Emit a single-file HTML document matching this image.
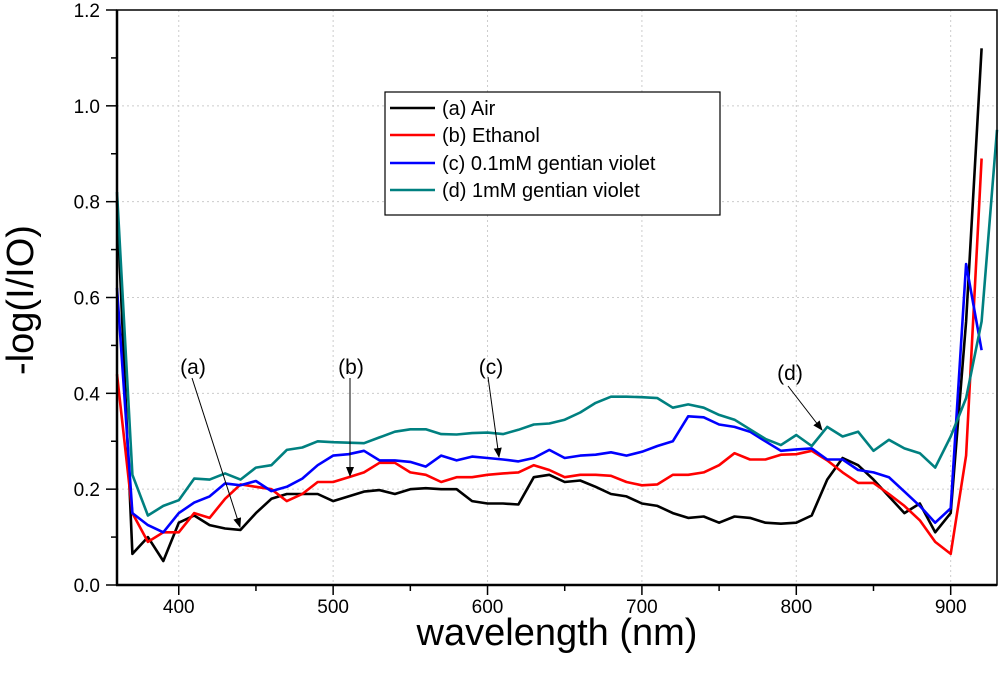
<!DOCTYPE html>
<html><head><meta charset="utf-8"><style>
body{margin:0;background:#fff;width:1000px;height:679px;overflow:hidden}
svg{font-family:"Liberation Sans",sans-serif}
</style></head><body>
<svg id="chart" width="1000" height="679">
<defs><marker id="ah" markerWidth="10" markerHeight="10" refX="9" refY="4" orient="auto" markerUnits="userSpaceOnUse"><path d="M0,0 L10,4 L0,8 z" fill="#000"/></marker></defs>
<g id="grid"></g>
<g id="series"></g>
<g id="axes"></g>
<text x="557" y="645" font-size="38" text-anchor="middle">wavelength (nm)</text>
<text transform="translate(33,300) rotate(-90)" font-size="38" text-anchor="middle">-log(I/IO)</text>
<g>
<rect x="385" y="92" width="335" height="123" fill="#fff" stroke="#000" stroke-width="1.2"/>
<g font-size="20">
<line x1="390" y1="108" x2="435" y2="108" stroke="#000" stroke-width="2.5"/><text x="442" y="115">(a) Air</text>
<line x1="390" y1="135" x2="435" y2="135" stroke="#ff0000" stroke-width="2.5"/><text x="442" y="142">(b) Ethanol</text>
<line x1="390" y1="163" x2="435" y2="163" stroke="#0000ff" stroke-width="2.5"/><text x="442" y="170">(c) 0.1mM gentian violet</text>
<line x1="390" y1="190" x2="435" y2="190" stroke="#008080" stroke-width="2.5"/><text x="442" y="197">(d) 1mM gentian violet</text>
</g></g>
<g font-size="21">
<text x="193" y="374" text-anchor="middle">(a)</text>
<line x1="192" y1="378" x2="240" y2="527" stroke="#000" stroke-width="1" marker-end="url(#ah)"/>
<text x="351" y="374" text-anchor="middle">(b)</text>
<line x1="350" y1="378" x2="350" y2="476" stroke="#000" stroke-width="1" marker-end="url(#ah)"/>
<text x="491" y="374" text-anchor="middle">(c)</text>
<line x1="488" y1="377" x2="499" y2="457" stroke="#000" stroke-width="1" marker-end="url(#ah)"/>
<text x="790" y="380" text-anchor="middle">(d)</text>
<line x1="788" y1="386" x2="822" y2="430" stroke="#000" stroke-width="1" marker-end="url(#ah)"/>
</g>
</svg>
<script>
const wl=[360,370,380,390,400,410,420,430,440,450,460,470,480,490,500,510,520,530,540,550,560,570,580,590,600,610,620,630,640,650,660,670,680,690,700,710,720,730,740,750,760,770,780,790,800,810,820,830,840,850,860,870,880,890,900,910,920,930];
const air=[0.8,0.065,0.1,0.05,0.13,0.145,0.125,0.118,0.115,0.15,0.18,0.19,0.19,0.19,0.175,0.185,0.195,0.198,0.19,0.2,0.202,0.2,0.2,0.175,0.17,0.17,0.168,0.225,0.23,0.215,0.218,0.205,0.19,0.185,0.17,0.165,0.15,0.14,0.143,0.13,0.143,0.14,0.13,0.128,0.13,0.145,0.22,0.265,0.25,0.22,0.185,0.15,0.17,0.11,0.15,0.55,1.12,null];
const ethanol=[0.44,0.15,0.09,0.11,0.11,0.15,0.14,0.18,0.21,0.205,0.2,0.175,0.19,0.215,0.215,0.225,0.235,0.255,0.255,0.235,0.23,0.215,0.225,0.225,0.23,0.233,0.235,0.25,0.24,0.225,0.23,0.23,0.228,0.215,0.208,0.21,0.23,0.23,0.235,0.25,0.275,0.262,0.262,0.272,0.273,0.28,0.26,0.235,0.213,0.213,0.19,0.165,0.135,0.09,0.065,0.27,0.89,null];
const gv01=[0.62,0.15,0.125,0.11,0.15,0.172,0.185,0.212,0.208,0.217,0.196,0.205,0.222,0.25,0.27,0.273,0.28,0.26,0.26,0.257,0.247,0.27,0.26,0.268,0.265,0.262,0.258,0.265,0.282,0.265,0.27,0.272,0.277,0.27,0.278,0.29,0.3,0.352,0.35,0.335,0.33,0.32,0.3,0.28,0.283,0.285,0.262,0.262,0.24,0.235,0.225,0.195,0.165,0.13,0.16,0.67,0.49,null];
const gv1=[0.82,0.23,0.145,0.165,0.177,0.222,0.22,0.233,0.22,0.245,0.25,0.282,0.287,0.3,0.298,0.297,0.296,0.308,0.32,0.325,0.325,0.315,0.314,0.317,0.318,0.315,0.324,0.335,0.337,0.345,0.36,0.38,0.393,0.393,0.392,0.39,0.37,0.377,0.37,0.355,0.345,0.325,0.305,0.292,0.313,0.29,0.33,0.31,0.32,0.28,0.303,0.285,0.275,0.245,0.31,0.39,0.55,0.95];
const xTicks=[400,500,600,700,800,900];
const yTicks=[0,0.2,0.4,0.6,0.8,1.0,1.2];
const yTickLabels=["0.0","0.2","0.4","0.6","0.8","1.0","1.2"];
const L=117,R=997,T=10,B=585,X0=360,X1=930,Y0=0,Y1=1.2;
const xs=v=>L+(v-X0)/(X1-X0)*(R-L);
const ys=v=>B-(v-Y0)/(Y1-Y0)*(B-T);
const NS="http://www.w3.org/2000/svg";
function mk(t,a,p){const e=document.createElementNS(NS,t);for(const k in a)e.setAttribute(k,a[k]);p.appendChild(e);return e;}
const grid=document.getElementById('grid'),axes=document.getElementById('axes'),ser=document.getElementById('series');
xTicks.forEach(v=>{const l=mk('line',{x1:xs(v),x2:xs(v),y1:T,y2:B,stroke:'#ccc','stroke-dasharray':'2,3'},grid);

});
yTicks.slice(1).forEach(v=>{const l=mk('line',{x1:L,x2:R,y1:ys(v),y2:ys(v),stroke:'#ccc','stroke-dasharray':'2,3'},grid);

});
const series=[[air,'#000','series-air'],[ethanol,'#ff0000','series-ethanol'],[gv01,'#0000ff','series-01mm'],[gv1,'#008080','series-1mm']];
series.forEach(([d,c,n])=>{let s='';d.forEach((v,i)=>{if(v==null)return;s+=(s?'L':'M')+xs(wl[i]).toFixed(1)+','+ys(v).toFixed(1);});
const p=mk('path',{d:s,fill:'none',stroke:c,'stroke-width':2.6,'stroke-linejoin':'round'},ser);

});
mk('rect',{x:L,y:T,width:R-L,height:B-T,fill:'none',stroke:'#000','stroke-width':1.5},axes);
mk('line',{x1:L-1,x2:R,y1:B,y2:B,stroke:'#000','stroke-width':2.5},axes);
mk('line',{x1:L,x2:L,y1:T,y2:B,stroke:'#000','stroke-width':2.5},axes);
for(let v=400;v<=900;v+=50){mk('line',{x1:xs(v),x2:xs(v),y1:B,y2:B+(v%100?6:10),stroke:'#000','stroke-width':1.5},axes);}
xTicks.forEach(v=>{const t=mk('text',{x:xs(v),y:B+28,'font-size':19,'text-anchor':'middle'},axes);t.textContent=v;

});
for(let v=0;v<=1.2001;v+=0.1){mk('line',{x1:L,x2:L-(Math.round(v*10)%2?6:11),y1:ys(v),y2:ys(v),stroke:'#000','stroke-width':1.5},axes);}
yTicks.forEach((v,i)=>{const t=mk('text',{x:L-17,y:ys(v)+7,'font-size':19,'text-anchor':'end'},axes);t.textContent=yTickLabels[i];

});
</script>
</body></html>
